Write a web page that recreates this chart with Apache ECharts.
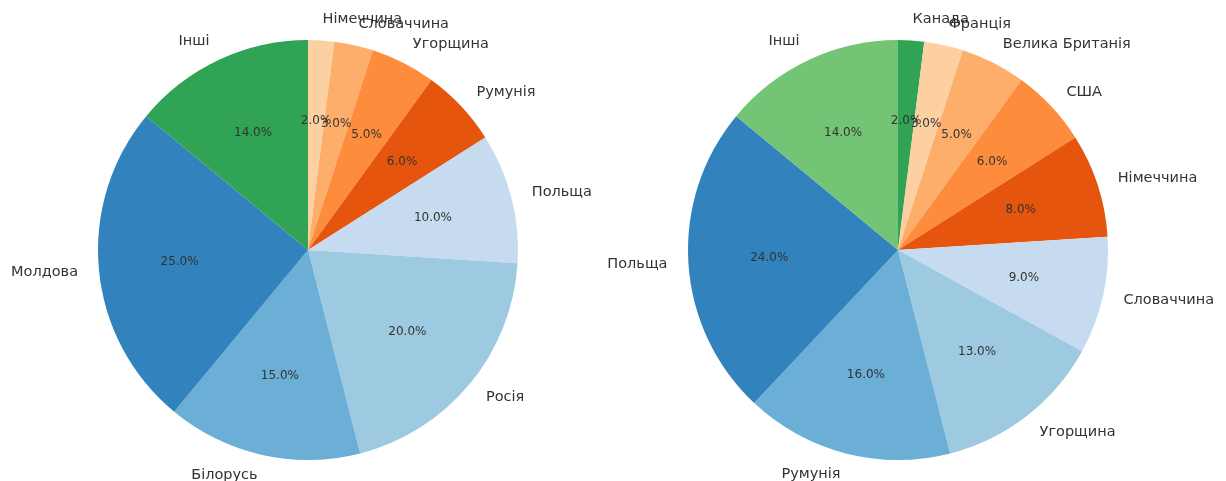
<!DOCTYPE html>
<html>
<head>
<meta charset="utf-8">
<script src="https://cdn.jsdelivr.net/npm/echarts@6/dist/echarts.min.js"></script>
<style>
html,body{margin:0;padding:0;background:#fff;}
#chart{width:1226px;height:481px;}
</style>
</head>
<body>
<div id="chart"></div>
<script>
// Left pie (clockwise from top)
const leftNames = ['Німеччина','Словаччина','Угорщина','Румунія','Польща','Росія','Білорусь','Молдова','Інші'];
const leftValues = [2, 3, 5, 6, 10, 20, 15, 25, 14];
// Right pie (clockwise from top)
const rightNames = ['Канада','Франція','Велика Британія','США','Німеччина','Словаччина','Угорщина','Румунія','Польща','Інші'];
const rightValues = [2, 3, 5, 6, 8, 9, 13, 16, 24, 14];

const leftPalette = ['#fdd0a2','#fdae6b','#fd8d3c','#e6550d','#c6dbef','#9ecae1','#6baed6','#3182bd','#31a354'];
const rightPalette = ['#31a354','#fdd0a2','#fdae6b','#fd8d3c','#e6550d','#c6dbef','#9ecae1','#6baed6','#3182bd','#74c476'];

const FONT = 'DejaVu Sans';
const R = 210;

function build(names, values, palette) {
  return names.map((n, i) => ({ name: n, value: values[i], itemStyle: { color: palette[i] } }));
}
function buildTransparent(names, values) {
  return names.map((n, i) => ({ name: n, value: values[i] }));
}

function pieSeries(names, values, palette, center) {
  return [
    {
      type: 'pie',
      center: center,
      radius: [0, R],
      startAngle: 90,
      clockwise: true,
      avoidLabelOverlap: false,
      silent: true,
      animation: false,
      itemStyle: { borderWidth: 0 },
      label: {
        show: true,
        position: 'outside',
        formatter: '{b}',
        fontFamily: FONT,
        fontSize: 14.5,
        color: '#333',
        distanceToLabelLine: 0
      },
      labelLine: { show: false, length: R * 0.1, length2: 0 },
      labelLayout: { hideOverlap: false },
      emphasis: { disabled: true },
      data: build(names, values, palette)
    },
    {
      type: 'pie',
      center: center,
      radius: [R * 0.2, R],
      startAngle: 90,
      clockwise: true,
      avoidLabelOverlap: false,
      silent: true,
      animation: false,
      itemStyle: { color: 'rgba(0,0,0,0)', borderWidth: 0 },
      label: {
        show: true,
        position: 'inside',
        formatter: p => p.value.toFixed(1) + '%',
        fontFamily: FONT,
        fontSize: 12,
        color: '#333'
      },
      labelLine: { show: false },
      labelLayout: { hideOverlap: false },
      emphasis: { disabled: true },
      data: buildTransparent(names, values)
    }
  ];
}

const chart = echarts.init(document.getElementById('chart'), null, { renderer: 'canvas' });
chart.setOption({
  backgroundColor: '#fff',
  animation: false,
  series: [
    ...pieSeries(leftNames, leftValues, leftPalette, [308, 250]),
    ...pieSeries(rightNames, rightValues, rightPalette, [898, 250])
  ]
});
</script>
</body>
</html>
